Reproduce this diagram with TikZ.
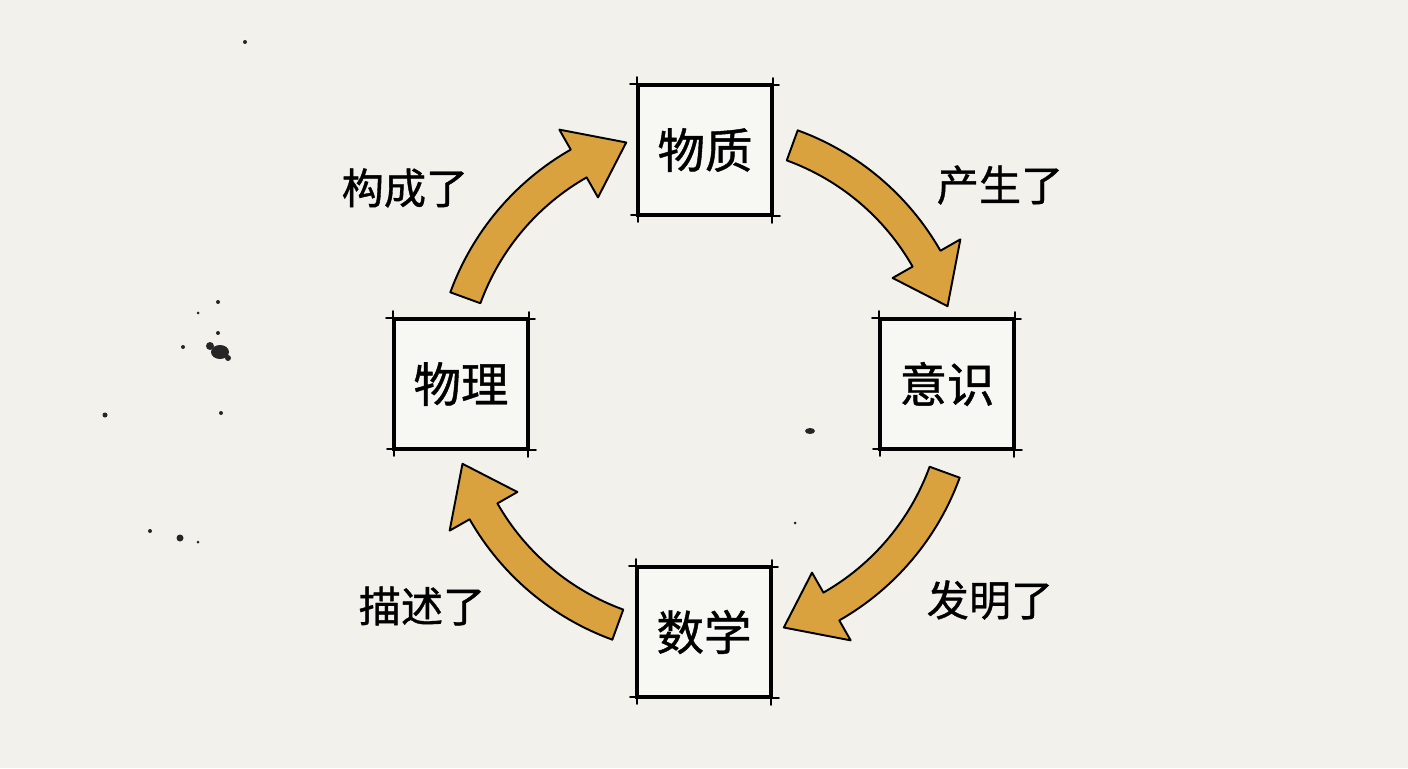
\documentclass[tikz,border=0pt]{standalone}
\usepackage{fontspec}
\setmainfont{Noto Sans CJK SC}
\newfontfamily\hand{Noto Sans CJK SC}[FakeBold=0.9]
\usetikzlibrary{calc}

\definecolor{paper}{HTML}{F2F1EC}
\definecolor{gold}{HTML}{D9A23F}

% fat curved arrow round (c): #1 tail angle, #2 tip angle
\newcommand{\bigarrow}[2]{%
  \pgfmathsetmacro\hb{#2+11.7}
  \begin{scope}[shift={(c)}]
    \draw[bigarr] (#1:271) arc[start angle=#1, end angle=\hb, radius=271]
      -- (\hb:294) -- (#2:255) -- (\hb:216) -- (\hb:239)
      arc[start angle=\hb, end angle=#1, radius=239] -- cycle;
  \end{scope}}

\begin{document}
\begin{tikzpicture}[x=0.02cm,y=0.02cm,
    box/.style={draw=black, line width=2.3pt, fill=paper!60!white,
            minimum width=2.68cm, minimum height=2.6cm, font=\hand\fontsize{27}{30}\selectfont},
    lbl/.style={font=\hand\fontsize{24}{26}\selectfont},
    bigarr/.style={draw=black, line width=1.1pt, fill=gold, line join=round},
    sketch/.style={draw=black, line width=1pt, line cap=round},
    ink/.style={fill=black!85, draw=none}]
            \fill[paper] (0,0) rectangle (1408,768);
            \useasboundingbox (0,0) rectangle (1408,768);
            \coordinate (c) at (705,383);

            % ink spots
            \fill[ink] (220,416) ellipse[x radius=9, y radius=7];
            \fill[ink] (210,422) circle[radius=4];
            \fill[ink] (228,410) circle[radius=3];
            \fill[ink] (218,435) circle[radius=2];
            \fill[ink] (183,421) circle[radius=2];
            \fill[ink] (198,455) circle[radius=1.5];
            \fill[ink] (105,353) circle[radius=2.5];
            \fill[ink] (221,355) circle[radius=2];
            \fill[ink] (218,466) circle[radius=2];
            \fill[ink] (180,230) circle[radius=3.5];
            \fill[ink] (150,237) circle[radius=2];
            \fill[ink] (198,226) circle[radius=1.5];
            \fill[ink] (810,337) ellipse[x radius=5, y radius=3];
            \fill[ink] (245,726) circle[radius=2];
            \fill[ink] (795,245) circle[radius=1.5];

            \node[box] (mat) at (705,618) {物质};
            \node[box] (con) at (947,384) {意识};
            \node[box] (math) at (704,136) {数学};
            \node[box] (phy) at (461,384) {物理};

            % overshooting pen strokes on the boxes
            \foreach \b in {mat,con,math,phy}{
              \draw[sketch] ($(\b.north west)+(-6,-1)$) -- ($(\b.north east)+(5,-2)$);
              \draw[sketch] ($(\b.south west)+(-5,2)$) -- ($(\b.south east)+(6,1)$);
              \draw[sketch] ($(\b.north west)+(1,6)$) -- ($(\b.south west)+(2,-5)$);
              \draw[sketch] ($(\b.north east)+(-1,5)$) -- ($(\b.south east)+(-2,-6)$);
            }

            \bigarrow{160}{108}
            \bigarrow{70}{18}
            \bigarrow{-20}{-72}
            \bigarrow{-110}{-162}

            \node[lbl] (l1) at (405,580) {构成了};
            \node[lbl] (l2) at (1000,583) {产生了};
            \node[lbl] (l3) at (990,168) {发明了};
            \node[lbl] (l4) at (422,162) {描述了};
\end{tikzpicture}
\end{document}
